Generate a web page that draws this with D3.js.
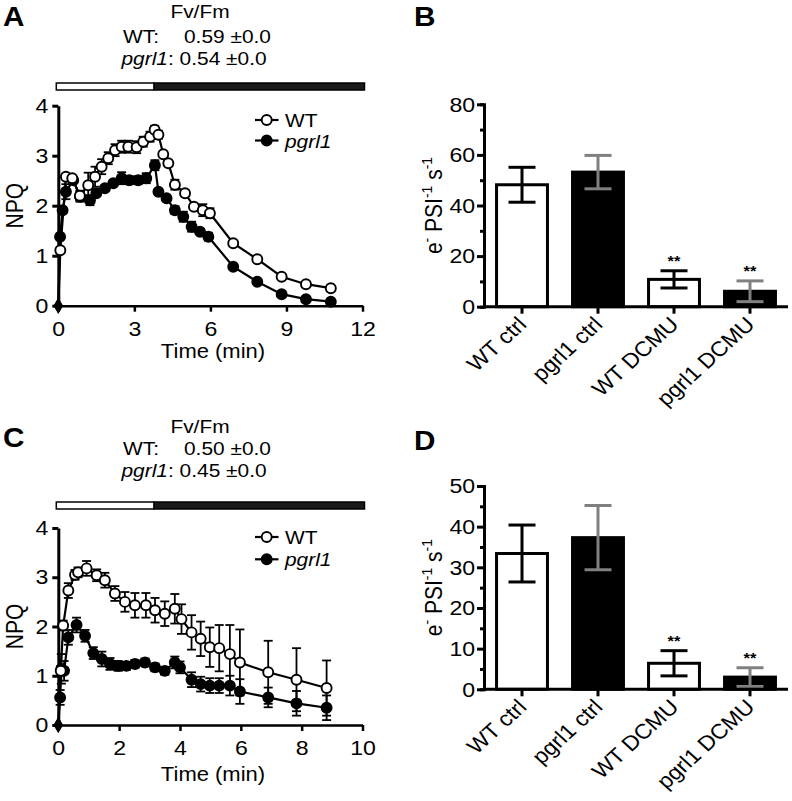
<!DOCTYPE html>
<html><head><meta charset="utf-8">
<script src="https://cdn.jsdelivr.net/npm/d3@7"></script>
<style>body{margin:0;background:#fff} text{font-family:"Liberation Sans",Arial,Helvetica,sans-serif;fill:#000}</style>
</head><body><svg id="c" width="792" height="801"></svg>
<script>
// ---------------- DATA ----------------
// Panel A (NPQ vs time, min)
const aTimeWT = [0, 0.08, 0.3, 0.55, 0.85, 1.18, 1.45, 1.71, 1.97, 2.24, 2.5, 2.76, 3.09, 3.35, 3.62, 3.8, 3.95, 4.14, 4.34, 4.6, 5.0, 5.35, 5.7, 5.98, 6.9, 7.85, 8.81, 9.77, 10.75];
const aNpqWT  = [0, 1.11, 2.58, 2.55, 2.2, 2.41, 2.58, 2.78, 2.95, 3.11, 3.18, 3.18, 3.17, 3.28, 3.38, 3.52, 3.42, 3.03, 2.85, 2.42, 2.25, 1.98, 1.91, 1.85, 1.25, 0.93, 0.58, 0.43, 0.35];
const aErrWT  = [0, 0.05, 0.05, 0.05, 0.1, 0.25, 0.2, 0.15, 0.12, 0.12, 0.12, 0.12, 0.12, 0.1, 0.1, 0.08, 0.08, 0.05, 0.05, 0.1, 0.05, 0.05, 0.12, 0.1, 0.03, 0.03, 0.03, 0.03, 0.03];
const aTimePG = [0, 0.07, 0.17, 0.3, 0.59, 0.86, 1.25, 1.5, 1.84, 2.17, 2.5, 2.8, 3.15, 3.47, 3.81, 3.95, 4.27, 4.6, 4.93, 5.26, 5.59, 5.92, 6.9, 7.85, 8.81, 9.77, 10.75];
const aNpqPG  = [0, 1.38, 1.91, 2.28, 2.51, 2.18, 2.11, 2.25, 2.35, 2.45, 2.55, 2.51, 2.51, 2.55, 2.81, 2.28, 2.15, 1.91, 1.78, 1.58, 1.48, 1.38, 0.78, 0.48, 0.23, 0.13, 0.08];
const aErrPG  = [0, 0.05, 0.05, 0.15, 0.05, 0.1, 0.1, 0.05, 0.05, 0.05, 0.12, 0.08, 0.08, 0.1, 0.1, 0.05, 0.05, 0.08, 0.1, 0.1, 0.05, 0.08, 0.03, 0.03, 0.03, 0.03, 0.03];
const aXTicks = [0, 3, 6, 9, 12];
const aFvFm = ["0.59 ±0.0", "0.54 ±0.0"];
const aLightEnd = [3.78];

// Panel C
const cTimeWT = [0, 0.08, 0.16, 0.33, 0.55, 0.65, 0.93, 1.26, 1.53, 1.86, 2.19, 2.52, 2.88, 3.18, 3.5, 3.83, 4.05, 4.38, 4.68, 4.98, 5.29, 5.64, 5.97, 6.9, 7.83, 8.82];
const cNpqWT  = [0, 1.1, 2.02, 2.73, 3.05, 3.1, 3.18, 3.04, 2.94, 2.67, 2.5, 2.43, 2.43, 2.33, 2.26, 2.36, 2.15, 1.88, 1.75, 1.58, 1.56, 1.44, 1.27, 1.07, 0.92, 0.75];
const cErrWT  = [0, 0.1, 0.1, 0.15, 0.1, 0.1, 0.15, 0.12, 0.15, 0.15, 0.2, 0.25, 0.25, 0.25, 0.25, 0.3, 0.3, 0.35, 0.35, 0.4, 0.47, 0.59, 0.67, 0.64, 0.64, 0.56];
const cTimePG = [0, 0.06, 0.1, 0.19, 0.33, 0.6, 0.88, 1.15, 1.43, 1.7, 1.97, 2.24, 2.52, 2.85, 3.18, 3.5, 3.83, 4.0, 4.38, 4.68, 4.98, 5.29, 5.64, 5.97, 6.9, 7.83, 8.82];
const cNpqPG  = [0, 0.56, 1.14, 1.1, 1.78, 2.03, 1.81, 1.46, 1.34, 1.24, 1.2, 1.2, 1.24, 1.27, 1.17, 1.1, 1.27, 1.17, 0.92, 0.83, 0.8, 0.8, 0.8, 0.68, 0.56, 0.44, 0.35];
const cErrPG  = [0, 0.15, 0.3, 0.2, 0.15, 0.15, 0.12, 0.12, 0.15, 0.12, 0.1, 0.08, 0.08, 0.08, 0.08, 0.08, 0.12, 0.12, 0.15, 0.15, 0.15, 0.15, 0.2, 0.25, 0.2, 0.25, 0.25];
const cXTicks = [0, 2, 4, 6, 8, 10];
const cFvFm = ["0.50 ±0.0", "0.45 ±0.0"];
const cLightEnd = [3.15];

const npqTicks = [0, 1, 2, 3, 4];

// Panels B and D (bar charts)
const barCats = ["WT ctrl", "pgrl1 ctrl", "WT DCMU", "pgrl1 DCMU"];
const barFill = ["#fff", "#000", "#fff", "#000"];
const barErrColor = ["#000", "#808080", "#000", "#808080"];
const barSig = ["", "", "**", "**"];
const bValues = [48.2, 53.2, 10.8, 6.1];
const bErrors = [6.9, 6.6, 3.4, 4.1];
const dValues = [33.4, 37.3, 6.4, 3.0];
const dErrors = [7.0, 7.9, 3.1, 2.3];

// ---------------- DRAW ----------------
const SX = 1.1; // horizontal glyph stretch seen in the reference
const svg = d3.select("#c");

function txt(g, x, y, s, o = {}) {
  return g.append("text")
    .attr("transform", `translate(${x},${y}) scale(${SX},1)` + (o.rot ? ` rotate(${o.rot})` : ""))
    .attr("font-size", o.size || 19)
    .attr("text-anchor", o.anchor || "start")
    .attr("font-weight", o.weight || null)
    .attr("font-style", o.style || null)
    .text(s);
}

function styleAxis(sel, w, fs) {
  sel.attr("font-family", null).attr("font-size", fs);
  sel.select(".domain").attr("stroke", "#000").attr("stroke-width", w);
  sel.selectAll(".tick line").attr("stroke", "#000").attr("stroke-width", w);
  sel.selectAll(".tick text").attr("fill", "#000")
    .attr("transform", `scale(${SX},1)`);
}

function linePanel(p) {
  const g = svg.append("g");
  const x = d3.scaleLinear().domain([0, p.xTicks[p.xTicks.length - 1]]).range([58.3, 362.5]);
  const y = d3.scaleLinear().domain([0, 4]).range([p.y0, p.yTop]);

  // panel letter & header
  txt(g, 3, p.letterY, p.letter, { size: 27, weight: "bold" });
  txt(g, 200, p.hdrY[0], "Fv/Fm", { anchor: "middle" });
  txt(g, 123, p.hdrY[1], "WT:");
  txt(g, 184, p.hdrY[1], p.fvfm[0]);
  const t2 = txt(g, 121.5, p.hdrY[2], "");
  t2.append("tspan").attr("font-style", "italic").text("pgrl1");
  t2.append("tspan").text(": " + p.fvfm[1]);

  // light / dark bar
  const xEnd = p.xTicks[p.xTicks.length - 1];
  g.append("rect").attr("x", x(0) - 2).attr("y", p.barY).attr("width", x(p.lightEnd[0]) - x(0) + 2)
    .attr("height", 7).attr("fill", "#fff").attr("stroke", "#000").attr("stroke-width", 1.5);
  g.append("rect").attr("x", x(p.lightEnd[0])).attr("y", p.barY).attr("width", x(xEnd) + 2 - x(p.lightEnd[0]))
    .attr("height", 7).attr("fill", "#1a1a1a").attr("stroke", "#000").attr("stroke-width", 1.5);

  // axes
  const xa = g.append("g").attr("transform", `translate(0,${p.y0})`)
    .call(d3.axisBottom(x).tickValues(p.xTicks).tickSize(6).tickSizeOuter(0).tickPadding(9));
  styleAxis(xa, 2.5, 21);
  const ya = g.append("g").attr("transform", `translate(${x(0)},0)`)
    .call(d3.axisLeft(y).tickValues(npqTicks).tickSize(6).tickSizeOuter(0).tickPadding(3).tickFormat(d3.format("d")));
  styleAxis(ya, 3, 21);
  txt(g, 213, p.xTitleY, "Time (min)", { anchor: "middle", size: 20 });
  txt(g, 23, (y(0) + y(4)) / 2, "NPQ", { anchor: "middle", size: 21, rot: -90 });

  const series = [
    { t: p.tPG, v: p.vPG, e: p.ePG, fill: "#000" },
    { t: p.tWT, v: p.vWT, e: p.eWT, fill: "#fff" }
  ];
  const line = d3.line().x(d => x(d.t)).y(d => y(d.v));
  series.forEach(s => {
    s.pts = s.t.map((t, i) => ({ t, v: s.v[i], e: s.e[i] }));
  });
  // error bars
  series.forEach(s => {
    const eb = g.append("g").attr("stroke", "#000").attr("stroke-width", 1.8);
    s.pts.filter(d => d.e > 0).forEach(d => {
      eb.append("line").attr("x1", x(d.t)).attr("x2", x(d.t)).attr("y1", y(d.v - d.e)).attr("y2", y(d.v + d.e));
      [d.v - d.e, d.v + d.e].forEach(vv => eb.append("line")
        .attr("x1", x(d.t) - 4.5).attr("x2", x(d.t) + 4.5).attr("y1", y(vv)).attr("y2", y(vv)));
    });
  });
  // lines
  series.forEach(s => g.append("path").datum(s.pts).attr("d", line)
    .attr("fill", "none").attr("stroke", "#000").attr("stroke-width", 2.2));
  // markers
  series.forEach(s => {
    g.selectAll(null).data(s.pts.slice(1)).join("circle")
      .attr("cx", d => x(d.t)).attr("cy", d => y(d.v)).attr("r", 5)
      .attr("fill", s.fill).attr("stroke", "#000").attr("stroke-width", 1.9);
    const d0 = s.pts[0];
    g.append("path").attr("d", d3.symbol(d3.symbolDiamond, 75)())
      .attr("transform", `translate(${x(d0.t)},${y(d0.v)})`).attr("fill", "#000");
  });

  // legend
  const lg = [{ name: "WT", fill: "#fff", italic: false }, { name: "pgrl1", fill: "#000", italic: true }];
  lg.forEach((L, i) => {
    const cy = p.legY[i];
    g.append("line").attr("x1", 255).attr("x2", 278.5).attr("y1", cy).attr("y2", cy)
      .attr("stroke", "#000").attr("stroke-width", 2.2);
    g.append("circle").attr("cx", 266.7).attr("cy", cy).attr("r", 5)
      .attr("fill", L.fill).attr("stroke", "#000").attr("stroke-width", 1.9);
    txt(g, 285, cy + 7, L.name, { style: L.italic ? "italic" : null });
  });
}

function barPanel(p) {
  const g = svg.append("g");
  const x = d3.scaleBand().domain(barCats).range([484, 788]).paddingInner(0.33).paddingOuter(0.165);
  const y = d3.scaleLinear().domain([0, p.yMax]).range([p.y0, p.yTop]);

  txt(g, 414, p.letterY, p.letter, { size: 27, weight: "bold" });

  // bars
  g.selectAll(null).data(barCats).join("rect")
    .attr("x", d => x(d)).attr("width", x.bandwidth())
    .attr("y", (d, i) => y(p.values[i])).attr("height", (d, i) => y(0) - y(p.values[i]))
    .attr("fill", (d, i) => barFill[i]).attr("stroke", "#000").attr("stroke-width", 3);
  // error bars
  barCats.forEach((c, i) => {
    const cx = x(c) + x.bandwidth() / 2;
    const lo = p.values[i] - p.errors[i], hi = p.values[i] + p.errors[i];
    const eg = g.append("g").attr("stroke", barErrColor[i]).attr("stroke-width", 3);
    eg.append("line").attr("x1", cx).attr("x2", cx).attr("y1", y(lo)).attr("y2", y(hi));
    [lo, hi].forEach(v => eg.append("line").attr("x1", cx - 13.5).attr("x2", cx + 13.5).attr("y1", y(v)).attr("y2", y(v)));
    if (barSig[i]) txt(g, cx, y(hi) - 5, barSig[i], { anchor: "middle", size: 15, weight: "bold" });
  });

  // axes
  const yMinor = g.append("g").attr("transform", "translate(484,0)")
    .call(d3.axisLeft(y).tickValues(d3.range(p.minor / 2, p.yMax, p.minor)).tickSize(4).tickFormat(""));
  styleAxis(yMinor, 3, 20);
  const ya = g.append("g").attr("transform", "translate(484,0)")
    .call(d3.axisLeft(y).tickValues(d3.range(0, p.yMax + 1, p.minor)).tickSize(7).tickSizeOuter(0).tickPadding(1));
  styleAxis(ya, 3, 21);
  const xa = g.append("g").attr("transform", `translate(0,${p.y0})`)
    .call(d3.axisBottom(x).tickSize(7).tickSizeOuter(0).tickFormat(""));
  styleAxis(xa, 3, 20);
  xa.select(".domain").attr("d", `M484,0H788`);
  barCats.forEach(c => {
    const cx = x(c) + x.bandwidth() / 2;
    txt(g, cx + 6, p.y0 + 19, c, { anchor: "end", size: 21, rot: -45 });
  });

  // y title: e⁻ PSI⁻¹ s⁻¹
  const t = g.append("text")
    .attr("transform", `translate(442,${(y(0) + y(p.yMax)) / 2}) scale(${SX},1) rotate(-90)`)
    .attr("font-size", 21).attr("text-anchor", "middle");
  t.append("tspan").text("e");
  t.append("tspan").attr("font-size", 14).attr("dy", -9).text("-");
  t.append("tspan").attr("dy", 9).text(" PSI");
  t.append("tspan").attr("font-size", 14).attr("dy", -9).text("-1");
  t.append("tspan").attr("dy", 9).text(" s");
  t.append("tspan").attr("font-size", 14).attr("dy", -9).text("-1");
}

linePanel({ letter: "A", letterY: 26, hdrY: [18.3, 43.3, 65], barY: 83, y0: 305.7, yTop: 105.7,
  xTicks: aXTicks, fvfm: aFvFm, lightEnd: aLightEnd, xTitleY: 358, legY: [120, 140.5],
  tWT: aTimeWT, vWT: aNpqWT, eWT: aErrWT, tPG: aTimePG, vPG: aNpqPG, ePG: aErrPG });
linePanel({ letter: "C", letterY: 446.7, hdrY: [433.3, 455, 476.7], barY: 502, y0: 725, yTop: 528,
  xTicks: cXTicks, fvfm: cFvFm, lightEnd: cLightEnd, xTitleY: 781, legY: [537, 559.3],
  tWT: cTimeWT, vWT: cNpqWT, eWT: cErrWT, tPG: cTimePG, vPG: cNpqPG, ePG: cErrPG });
barPanel({ letter: "B", letterY: 26, y0: 306.7, yTop: 104.3, yMax: 80, minor: 20, values: bValues, errors: bErrors });
barPanel({ letter: "D", letterY: 450, y0: 689.3, yTop: 486, yMax: 50, minor: 10, values: dValues, errors: dErrors });
</script>
</body></html>
